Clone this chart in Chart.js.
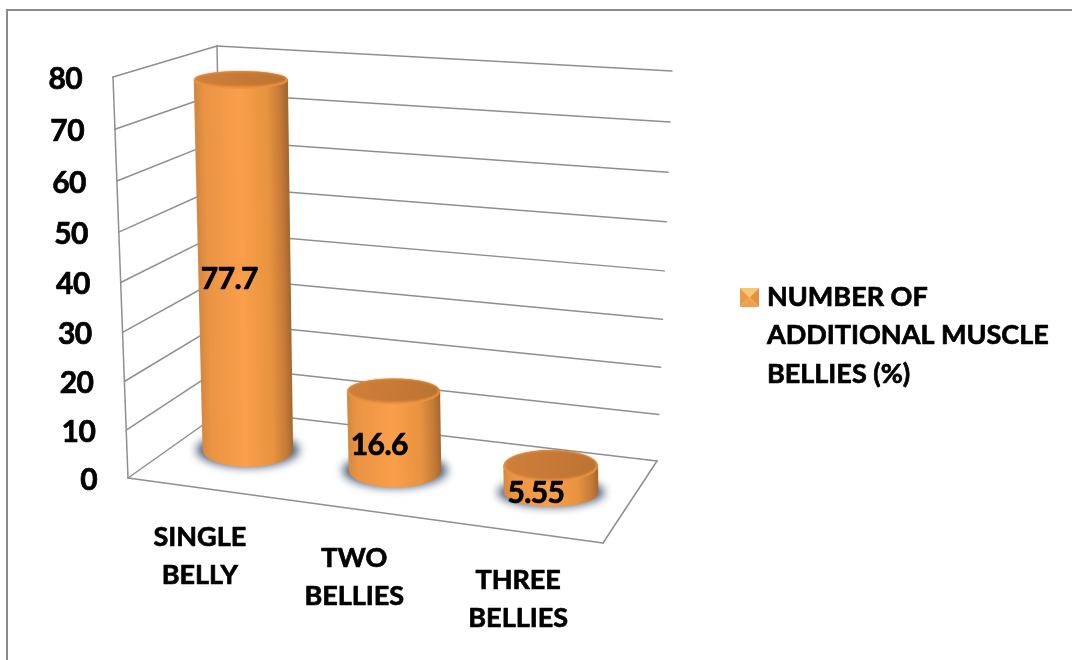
<!DOCTYPE html>
<html>
<head>
<meta charset="utf-8">
<title>Additional muscle bellies</title>
<script src="https://cdn.jsdelivr.net/npm/chart.js@4"></script>
<style>
  html, body { margin: 0; padding: 0; background: #fff; }
  canvas { display: block; }
</style>
</head>
<body>
<canvas id="bellyChart" width="1072" height="660"></canvas>
<script>
const categories = [['SINGLE', 'BELLY'], ['TWO', 'BELLIES'], ['THREE', 'BELLIES']];
const values = [77.7, 16.6, 5.55];
const valueLabels = ['77.7', '16.6', '5.55'];
const legendLines = ['NUMBER OF', 'ADDITIONAL MUSCLE', 'BELLIES (%)'];
const yMin = 0;
const yMax = 80;
const yStep = 10;

const FONT = 'Lato, "Open Sans", sans-serif';
const GRID = '#8f8f8f';

// corners of the 3D box, level 0 and level 80
const frontEdge = { x0: 128, x1: 113 };
const backLeft = { x0: 224, y0: 410, x1: 217, y1: 46 };
const backRight = { x0: 657, y0: 461, x1: 672, y1: 71 };
const floorFront = { x: 603, y: 543 };

function lerp(a, b, t) {
  return a + (b - a) * t;
}

// how far up the wall a value sits (walls are not quite linear in the original)
function wallT(scale, value) {
  const d = (scale.getPixelForValue(0) - scale.getPixelForValue(value)) / (scale.getPixelForValue(0) - scale.getPixelForValue(yMax));
  return d - 0.05 * d * (1 - d);
}

// bars do not sit at even spacing on the tilted floor
function floorX(chart, x) {
  const area = chart.chartArea;
  const d = (x - area.left) / (area.right - area.left);
  const mid = Math.abs(d - 0.5) < 0.2 ? -4.5 : 0;
  return x + mid;
}

function floorY(x) {
  return 450 + 0.14 * (x - 248);
}

function line(ctx, x0, y0, x1, y1) {
  ctx.beginPath();
  ctx.moveTo(x0, y0);
  ctx.lineTo(x1, y1);
  ctx.stroke();
}

// Lato is a little lighter than the original face, so thicken it a bit
function heavyText(ctx, text, x, y) {
  ctx.fillText(text, x, y);
  ctx.strokeText(text, x, y);
}

function drawBox(chart) {
  const ctx = chart.ctx;
  const scale = chart.scales.y;
  const baseY = scale.getPixelForValue(0);

  ctx.save();
  // outer frame of the pasted picture
  ctx.strokeStyle = '#8a8a8a';
  ctx.lineWidth = 2;
  ctx.beginPath();
  ctx.moveTo(7, 660);
  ctx.lineTo(7, 10);
  ctx.lineTo(1072, 10);
  ctx.stroke();

  ctx.strokeStyle = GRID;
  ctx.lineWidth = 1.5;
  ctx.lineCap = 'round';

  scale.ticks.forEach(tick => {
    const t = wallT(scale, tick.value);
    const fx = lerp(frontEdge.x0, frontEdge.x1, t);
    const fy = lerp(baseY, scale.getPixelForValue(yMax), t);
    const lx = lerp(backLeft.x0, backLeft.x1, t);
    const ly = lerp(backLeft.y0, backLeft.y1, t);
    const rx = lerp(backRight.x0, backRight.x1, t);
    const ry = lerp(backRight.y0, backRight.y1, t);
    line(ctx, fx, fy, lx, ly);
    line(ctx, lx, ly, rx, ry);
  });

  line(ctx, frontEdge.x0, baseY, frontEdge.x1, scale.getPixelForValue(yMax));
  line(ctx, backLeft.x0, backLeft.y0, backLeft.x1, backLeft.y1);
  line(ctx, frontEdge.x0, baseY, floorFront.x, floorFront.y);
  line(ctx, floorFront.x, floorFront.y, backRight.x0, backRight.y0);
  ctx.restore();
}

function drawCylinder(ctx, baseX, baseY, height, width) {
  const lean = height * 0.019;
  const topX = baseX - lean;
  const topY = baseY - height;
  const baseRx = width / 2 - 1 + (baseX - 248) * 0.0066;
  const topRx = baseRx + height * 0.005;
  const baseRy = 17 - Math.max(0, baseX - 400) * 0.018;
  const topRy = 16 - 2.65 * (Math.log(height) - 3.26);

  // soft shadow on the floor, the ellipse itself stays off the canvas
  ctx.save();
  ctx.shadowColor = 'rgba(70, 90, 115, 1)';
  ctx.shadowBlur = 10;
  ctx.shadowOffsetX = 3000;
  ctx.fillStyle = '#000';
  ctx.beginPath();
  ctx.ellipse(baseX - 3000, baseY, baseRx + 6, baseRy, 0, 0, Math.PI * 2);
  ctx.fill();
  ctx.restore();

  // side, shading runs along the lean of the cylinder
  const side = ctx.createLinearGradient(baseX - baseRx, baseY, baseX + baseRx, baseY - 2 * baseRx * lean / height);
  side.addColorStop(0, '#d68840');
  side.addColorStop(0.1, '#ea9444');
  side.addColorStop(0.48, '#fa9f4b');
  side.addColorStop(0.78, '#e8933f');
  side.addColorStop(0.93, '#c47a37');
  side.addColorStop(1, '#a5682f');
  ctx.fillStyle = side;
  ctx.beginPath();
  ctx.moveTo(topX - topRx, topY);
  ctx.lineTo(baseX - baseRx, baseY);
  ctx.ellipse(baseX, baseY, baseRx, baseRy, 0, Math.PI, 0, true);
  ctx.lineTo(topX + topRx, topY);
  ctx.ellipse(topX, topY, topRx, topRy, 0, 0, Math.PI, true);
  ctx.closePath();
  ctx.fill();

  // top cap with its lighter rim
  ctx.fillStyle = '#ee9644';
  ctx.beginPath();
  ctx.ellipse(topX, topY, topRx, topRy, 0, 0, Math.PI * 2);
  ctx.fill();
  const cap = ctx.createLinearGradient(topX - topRx, 0, topX + topRx, 0);
  cap.addColorStop(0, '#cf7f39');
  cap.addColorStop(0.5, '#c77a36');
  cap.addColorStop(1, '#bb7231');
  ctx.save();
  ctx.filter = 'blur(0.8px)';
  ctx.fillStyle = cap;
  ctx.beginPath();
  ctx.ellipse(topX, topY - 1, topRx - 1.5, topRy - 1.5, 0, 0, Math.PI * 2);
  ctx.fill();
  ctx.restore();

  return { midX: (topX + baseX) / 2, midY: (topY + baseY) / 2 };
}

function drawLegendMarker(ctx, x, y, s) {
  const cx = x + s / 2;
  const cy = y + s / 2;
  const faces = [
    [x, y, x + s, y, '#f7c873'],
    [x + s, y, x + s, y + s, '#e58f40'],
    [x + s, y + s, x, y + s, '#f0a04d'],
    [x, y + s, x, y, '#eb9a49']
  ];
  faces.forEach(f => {
    ctx.fillStyle = f[4];
    ctx.beginPath();
    ctx.moveTo(f[0], f[1]);
    ctx.lineTo(f[2], f[3]);
    ctx.lineTo(cx, cy);
    ctx.closePath();
    ctx.fill();
  });
}

const cylinderPlugin = {
  id: 'cylinderPlugin',
  beforeDatasetsDraw(chart) {
    drawBox(chart);
  },
  beforeDatasetDraw(chart, args) {
    // the bars are replaced by cylinders built from the same bar elements
    const ctx = chart.ctx;
    const bars = chart.getDatasetMeta(args.index).data;
    chart.$cylinders = bars.map(bar => {
      const x = floorX(chart, bar.x);
      const height = (bar.base - bar.y) * 0.95;
      return drawCylinder(ctx, x, floorY(x), height, bar.width);
    });
    return false;
  },
  afterDatasetsDraw(chart) {
    const ctx = chart.ctx;
    const scale = chart.scales.y;
    const xScale = chart.scales.x;
    const baseY = scale.getPixelForValue(0);

    ctx.save();
    ctx.fillStyle = '#000';
    ctx.strokeStyle = '#000';
    ctx.lineWidth = 0.7;
    ctx.lineJoin = 'round';
    ctx.textBaseline = 'middle';

    // value labels
    ctx.font = 'bold 30px ' + FONT;
    ctx.letterSpacing = '-0.6px';
    ctx.textAlign = 'center';
    chart.$cylinders.forEach((c, i) => {
      heavyText(ctx, valueLabels[i], c.midX - 15, c.midY + 14);
    });

    // y axis labels follow the slanted front edge
    ctx.textAlign = 'right';
    scale.ticks.forEach(tick => {
      const t = wallT(scale, tick.value);
      const x = lerp(frontEdge.x0, frontEdge.x1, t) - 31;
      const y = lerp(baseY, scale.getPixelForValue(yMax), t) + 2;
      heavyText(ctx, String(tick.value), x, y);
    });
    ctx.letterSpacing = '0px';

    // category labels stepping down along the floor edge
    ctx.font = 'bold 27px ' + FONT;
    ctx.textAlign = 'center';
    categories.forEach((lines, i) => {
      const x = floorX(chart, xScale.getPixelForValue(i));
      const labelX = x - 48 + (x - 248) * 0.0495;
      const edgeY = baseY + (floorFront.y - baseY) / (floorFront.x - frontEdge.x0) * (labelX - frontEdge.x0);
      lines.forEach((text, n) => {
        heavyText(ctx, text, labelX, edgeY + 49 + n * 38);
      });
    });

    // legend
    drawLegendMarker(ctx, 740, 288, 19);
    ctx.fillStyle = '#000';
    ctx.textAlign = 'left';
    legendLines.forEach((text, n) => {
      heavyText(ctx, text, 767, 297 + n * 38.5);
    });
    ctx.restore();
  }
};

const bellyChart = new Chart(document.getElementById('bellyChart').getContext('2d'), {
  type: 'bar',
  data: {
    labels: categories,
    datasets: [{
      label: legendLines.join(' '),
      data: values,
      backgroundColor: '#f79646',
      barPercentage: 0.61,
      categoryPercentage: 1
    }]
  },
  options: {
    responsive: false,
    animation: false,
    layout: { padding: { left: 172, right: 445, top: 77, bottom: 182 } },
    plugins: {
      legend: { display: false },
      tooltip: { enabled: false }
    },
    scales: {
      x: { display: false },
      y: { display: false, min: yMin, max: yMax, ticks: { stepSize: yStep } }
    }
  },
  plugins: [cylinderPlugin]
});
</script>
</body>
</html>
